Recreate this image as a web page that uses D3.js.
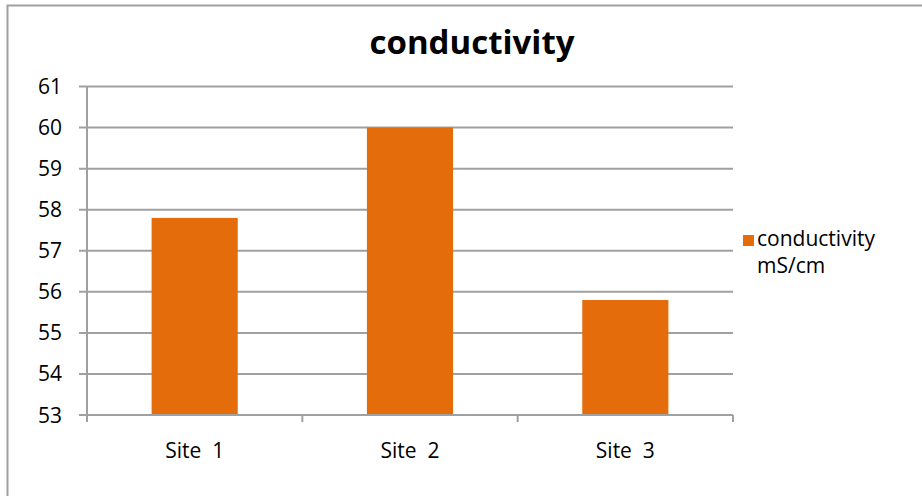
<!DOCTYPE html>
<html>
<head>
<meta charset="utf-8">
<script src="https://cdn.jsdelivr.net/npm/d3@7"></script>
<style>
  html, body { margin: 0; padding: 0; background: #fff; }
  svg { display: block; }
  text { font-family: "Open Sans", Lato, sans-serif; fill: #000; font-variant-ligatures: none; }
</style>
</head>
<body>
<svg id="chart" width="922" height="496"></svg>
<script>
const title = "conductivity";
const categories = ["Site  1", "Site  2", "Site  3"];
const values = [57.8, 60.0, 55.8];
const seriesName = ["conductivity", "mS/cm"];
const yTicks = [53, 54, 55, 56, 57, 58, 59, 60, 61];

const svg = d3.select("#chart");
const plot = { left: 87, right: 733, top: 86.5, bottom: 415 };
const gridColor = "#a0a0a0";
const barColor = "#e46c0a";

// outer border
svg.append("rect")
  .attr("x", 7.5).attr("y", 5.5)
  .attr("width", 920).attr("height", 500)
  .attr("fill", "none").attr("stroke", "#a0a0a0").attr("stroke-width", 2);

const x = d3.scaleBand()
  .domain(categories)
  .range([plot.left, plot.right])
  .paddingInner(0.6).paddingOuter(0.3);

const y = d3.scaleLinear()
  .domain([53, 61])
  .range([plot.bottom, plot.top]);

// gridlines
svg.append("g").selectAll("line").data(yTicks).join("line")
  .attr("x1", plot.left - 8).attr("x2", plot.right)
  .attr("y1", d => y(d)).attr("y2", d => y(d))
  .attr("stroke", gridColor).attr("stroke-width", 2);

// y axis line
svg.append("line")
  .attr("x1", plot.left).attr("x2", plot.left)
  .attr("y1", plot.top).attr("y2", plot.bottom)
  .attr("stroke", gridColor).attr("stroke-width", 2);

// bars
svg.append("g").selectAll("rect").data(values).join("rect")
  .attr("x", (d, i) => x(categories[i]))
  .attr("width", x.bandwidth())
  .attr("y", d => y(d))
  .attr("height", d => y(53) - y(d))
  .attr("fill", barColor);

// x axis line & ticks
svg.append("line")
  .attr("x1", plot.left).attr("x2", plot.right)
  .attr("y1", plot.bottom).attr("y2", plot.bottom)
  .attr("stroke", gridColor).attr("stroke-width", 2);
const bounds = d3.range(categories.length + 1).map(i => plot.left + i * (plot.right - plot.left) / categories.length);
svg.append("g").selectAll("line").data(bounds).join("line")
  .attr("x1", d => d).attr("x2", d => d)
  .attr("y1", plot.bottom).attr("y2", plot.bottom + 7)
  .attr("stroke", gridColor).attr("stroke-width", 2);

// y tick labels
svg.append("g").selectAll("text").data(yTicks).join("text")
  .attr("x", 62).attr("y", d => y(d) + 7.5)
  .attr("text-anchor", "end")
  .attr("font-size", 21)
  .text(d => d);

// x labels
svg.append("g").selectAll("text").data(categories).join("text")
  .attr("x", d => x(d) + x.bandwidth() / 2).attr("y", 458)
  .attr("text-anchor", "middle")
  .attr("font-size", 21)
  .attr("xml:space", "preserve")
  .style("white-space", "pre")
  .text(d => d);

// title
svg.append("text")
  .attr("x", 472).attr("y", 54)
  .attr("text-anchor", "middle")
  .attr("font-size", 33).attr("font-weight", "bold")
  .text(title);

// legend
svg.append("rect")
  .attr("x", 743).attr("y", 235)
  .attr("width", 11).attr("height", 11)
  .attr("fill", barColor);
svg.append("g").selectAll("text").data(seriesName).join("text")
  .attr("x", 757).attr("y", (d, i) => 246 + i * 27)
  .attr("font-size", 21)
  .text(d => d);
</script>
</body>
</html>
